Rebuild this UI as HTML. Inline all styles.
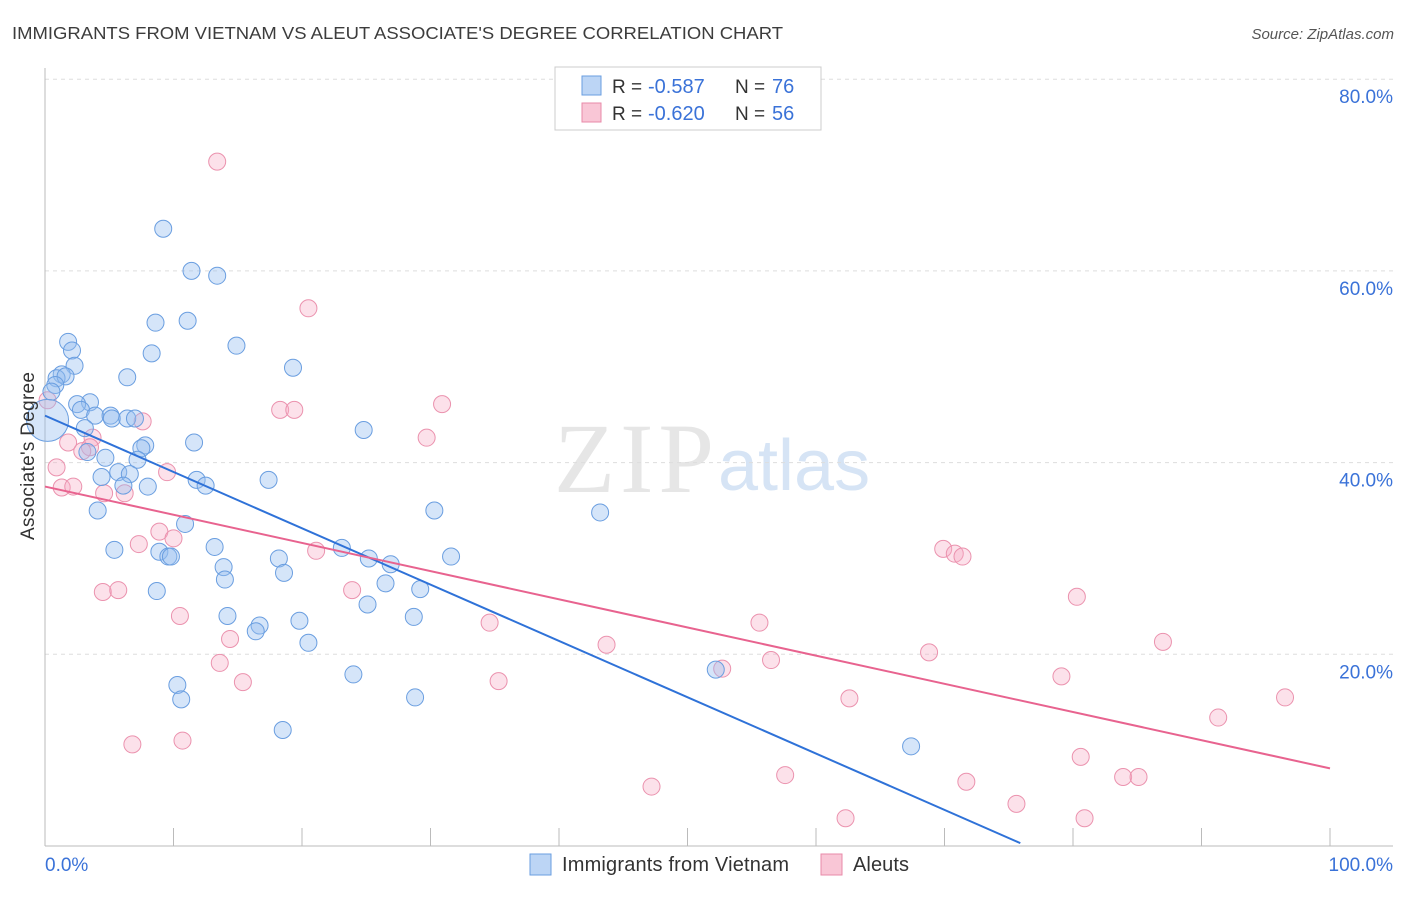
<!DOCTYPE html>
<html><head><meta charset="utf-8"><style>
body{margin:0;background:#fff;font-family:"Liberation Sans",sans-serif}
</style></head><body>
<svg id="c" width="1406" height="892" xmlns="http://www.w3.org/2000/svg" font-family="Liberation Sans, sans-serif">
<text x="12" y="39" font-size="17.5" fill="#3c3c3c" textLength="771" lengthAdjust="spacingAndGlyphs">IMMIGRANTS FROM VIETNAM VS ALEUT ASSOCIATE'S DEGREE CORRELATION CHART</text>
<text x="1394" y="39" font-size="15" fill="#555" text-anchor="end" font-style="italic">Source: ZipAtlas.com</text>
<text x="554" y="492" font-size="100" fill="#e6e6e6" font-family="Liberation Serif, serif" textLength="160">ZIP</text>
<text x="718" y="490" font-size="72" fill="#d6e4f5">atlas</text>
<g id="grid"></g><g id="pts"></g><g id="lines"></g>
<text x="34" y="456" font-size="19" fill="#333" text-anchor="middle" transform="rotate(-90 34 456)" textLength="168">Associate's Degree</text>
<g>
<rect x="555" y="67" width="266" height="63" fill="#fff" stroke="#ccc"/>
<rect x="582" y="76" width="19" height="19" fill="#bcd5f5" stroke="#6a9ee0"/>
<rect x="582" y="103" width="19" height="19" fill="#f9c6d6" stroke="#e88aa8"/>
<text x="612" y="93" font-size="19" fill="#333">R =</text>
<text x="648" y="93" font-size="20" fill="#3a72d8">-0.587</text>
<text x="735" y="93" font-size="19" fill="#333">N =</text>
<text x="772" y="93" font-size="20" fill="#3a72d8">76</text>
<text x="612" y="120" font-size="19" fill="#333">R =</text>
<text x="648" y="120" font-size="20" fill="#3a72d8">-0.620</text>
<text x="735" y="120" font-size="19" fill="#333">N =</text>
<text x="772" y="120" font-size="20" fill="#3a72d8">56</text>
</g>
<g>
<rect x="530" y="854" width="21" height="21" fill="#bcd5f5" stroke="#6a9ee0"/>
<text x="562" y="871" font-size="20" fill="#333" textLength="227">Immigrants from Vietnam</text>
<rect x="821" y="854" width="21" height="21" fill="#f9c6d6" stroke="#e88aa8"/>
<text x="853" y="871" font-size="20" fill="#333" textLength="56">Aleuts</text>
</g>
<text x="45" y="871" font-size="19" fill="#3a72d8">0.0%</text>
<text x="1393" y="871" font-size="19" fill="#3a72d8" text-anchor="end">100.0%</text>
</svg>
<script>
const blueX=[9.2,11.4,13.4,8.6,11.1,1.8,2.1,8.3,14.9,2.3,6.4,19.3,1.3,0.9,1.6,0.8,0.5,3.5,2.5,2.8,3.9,5.1,5.2,6.4,7.0,3.1,24.8,11.6,7.8,7.5,3.3,4.7,7.2,5.7,6.6,11.8,4.4,6.1,8.0,12.5,17.4,4.1,30.3,43.2,10.9,5.4,13.2,8.9,23.1,9.6,9.8,18.2,25.2,31.6,26.9,13.9,18.6,14.0,26.5,29.2,8.7,25.1,14.2,19.8,28.7,16.7,16.4,20.5,52.2,24.0,10.3,10.6,28.8,67.4,18.5];
const blueY=[64.4,60.0,59.5,54.6,54.8,52.6,51.7,51.4,52.2,50.1,48.9,49.9,49.2,48.8,49.0,48.1,47.4,46.3,46.1,45.5,44.9,44.9,44.6,44.6,44.6,43.6,43.4,42.1,41.8,41.5,41.1,40.5,40.3,39.0,38.8,38.2,38.5,37.6,37.5,37.6,38.2,35.0,35.0,34.8,33.6,30.9,31.2,30.7,31.1,30.2,30.2,30.0,30.0,30.2,29.4,29.1,28.5,27.8,27.4,26.8,26.6,25.2,24.0,23.5,23.9,23.0,22.4,21.2,18.4,17.9,16.8,15.3,15.5,10.4,12.1];
const pinkX=[13.4,20.5,30.9,18.3,19.4,0.2,7.6,29.7,1.8,3.7,3.5,2.9,0.9,9.5,1.3,2.2,4.6,6.2,8.9,10.0,7.3,21.1,69.9,70.8,71.4,4.5,5.7,23.9,80.3,10.5,34.6,55.6,14.4,87.0,43.7,68.8,56.5,13.6,52.7,79.1,35.3,15.4,62.6,96.5,91.3,6.8,10.7,80.6,57.6,83.9,85.1,71.7,47.2,75.6,62.3,80.9];
const pinkY=[71.4,56.1,46.1,45.5,45.5,46.5,44.3,42.6,42.1,42.6,41.6,41.2,39.5,39.0,37.4,37.5,36.8,36.8,32.8,32.1,31.5,30.8,31.0,30.5,30.2,26.5,26.7,26.7,26.0,24.0,23.3,23.3,21.6,21.3,21.0,20.2,19.4,19.1,18.5,17.7,17.2,17.1,15.4,15.5,13.4,10.6,11.0,9.3,7.4,7.2,7.2,6.7,6.2,4.4,2.9,2.9];
const bigBlue=[0.2,44.4];
const blueTrend=[44.9,0.3,75.9];
const pinkTrend=[37.5,8.1];
const yTicks=[20,40,60,80];
const xTickVals=[0,10,20,30,40,50,60,70,80,90,100];
const NS="http://www.w3.org/2000/svg";
const sx=v=>45+v*12.85, sy=v=>846-v*9.585;
function mk(t,a,p){const e=document.createElementNS(NS,t);for(const k in a)e.setAttribute(k,a[k]);p.appendChild(e);return e;}
const g=document.getElementById('grid');
yTicks.forEach(v=>{
 const l=mk('line',{x1:45,x2:1393,y1:sy(v),y2:sy(v),stroke:'#ddd','stroke-dasharray':'4,4'},g);
 
 
 const t=mk('text',{x:1393,y:sy(v)+24,'font-size':19,fill:'#3a72d8','text-anchor':'end'},g);t.textContent=v.toFixed(1)+'%';
 
 
});
const ax=mk('line',{x1:45,x2:45,y1:68,y2:846,stroke:'#bbb'},g);


const bx=mk('line',{x1:45,x2:1393,y1:846,y2:846,stroke:'#bbb'},g);


xTickVals.forEach(v=>{const l=mk('line',{x1:sx(v),x2:sx(v),y1:828,y2:846,stroke:'#bbb'},g);
 
 });
const p=document.getElementById('pts');
pinkX.forEach((x,i)=>{const c=mk('circle',{cx:sx(x),cy:sy(pinkY[i]),r:8.5,fill:'rgba(245,170,195,0.35)',stroke:'#eb92ae','stroke-width':1},p);
 
 });
blueX.forEach((x,i)=>{const c=mk('circle',{cx:sx(x),cy:sy(blueY[i]),r:8.5,fill:'rgba(150,190,240,0.4)',stroke:'#6a9ee0','stroke-width':1},p);
 
 });
const bb=mk('circle',{cx:sx(bigBlue[0]),cy:sy(bigBlue[1]),r:21,fill:'rgba(150,190,240,0.4)',stroke:'#6a9ee0'},p);


const L=document.getElementById('lines');
const bl=mk('line',{x1:sx(0),y1:sy(blueTrend[0]),x2:sx(blueTrend[2]),y2:sy(blueTrend[1]),stroke:'#2f72d8','stroke-width':2},L);


const pl=mk('line',{x1:sx(0),y1:sy(pinkTrend[0]),x2:sx(100),y2:sy(pinkTrend[1]),stroke:'#e8638f','stroke-width':2},L);


</script>
</body></html>
